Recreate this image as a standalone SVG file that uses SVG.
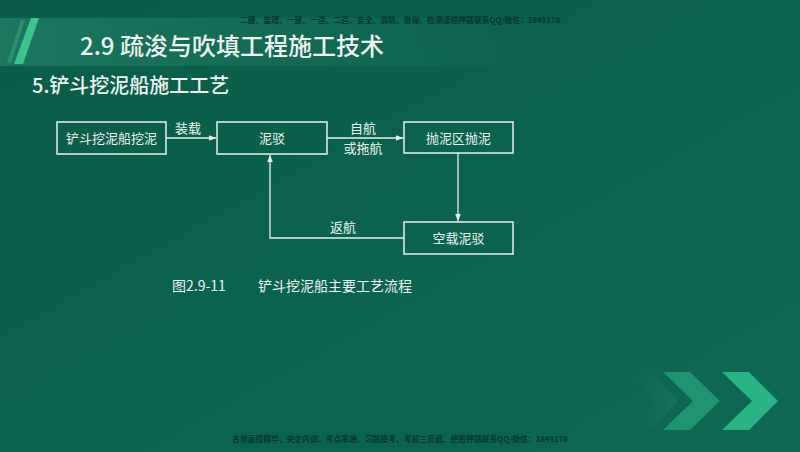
<svg xmlns="http://www.w3.org/2000/svg" width="800" height="452" viewBox="0 0 800 452">
<defs>
<linearGradient id="bg" x1="0" y1="0" x2="1" y2="1">
<stop offset="0" stop-color="#0a5c48"/>
<stop offset="0.5" stop-color="#0b624e"/>
<stop offset="1" stop-color="#0f6854"/>
</linearGradient>
<linearGradient id="band" x1="0" y1="0" x2="1" y2="0">
<stop offset="0" stop-color="#1f7a62" stop-opacity="0.9"/>
<stop offset="0.6" stop-color="#1a7560" stop-opacity="0.4"/>
<stop offset="1" stop-color="#1a7560" stop-opacity="0"/>
</linearGradient>
<linearGradient id="chev1" x1="0" y1="0" x2="1" y2="0">
<stop offset="0" stop-color="#0e6652" stop-opacity="0"/>
<stop offset="1" stop-color="#1a7a60"/>
</linearGradient>
<marker id="ah" viewBox="0 0 10 10" refX="10" refY="5" markerWidth="7" markerHeight="7" markerUnits="userSpaceOnUse" orient="auto">
<path d="M0,1 L10,5 L0,9 Z" fill="#e8f0ec"/>
</marker>
<style>
.box{fill:none;stroke:#e8f0ec;stroke-width:1.5}
.t{font-family:"Noto Sans CJK SC","Noto Sans",sans-serif;fill:#eef4f1}
.bt{font-size:13px;text-anchor:middle}
.lbl{font-size:13px;text-anchor:middle}
.ln{fill:none;stroke:#e8f0ec;stroke-width:1.3}
.wm{font-family:"Noto Sans CJK SC",sans-serif;font-size:7.8px;font-weight:bold;fill:#08382b;text-anchor:middle}
</style>
</defs>
<rect width="800" height="452" fill="url(#bg)"/>
<rect x="0" y="18" width="560" height="48" fill="url(#band)"/>
<polygon points="21,20 25,20 11,63 7,63" fill="#2fa57a" opacity="0.6"/>
<polygon points="31,18 39,18 23,64 14,64" fill="#3dc48c"/>
<polygon points="627,372 650,372 678,401 650,430 627,430 655,401" fill="url(#chev1)" opacity="0.7"/>
<polygon points="663,372 690,372 720,401 690,430 663,430 693,401" fill="#1f9470"/>
<polygon points="722,372 749,372 778,401 749,430 722,430 752,401" fill="#27b383"/>
<text class="wm" x="400" y="23">二建、监理、一建、一造、二造、安全、消防、咨询、检测课程押题联系QQ/微信：3849178</text>
<text class="wm" x="400" y="442">名师面授精华、央企内训、考点串讲、习题模考、考前三页纸、绝密押题联系QQ/微信：3849178</text>
<text class="t" x="80" y="55" font-size="24" font-weight="500">2.9 疏浚与吹填工程施工技术</text>
<text class="t" x="32" y="93" font-size="20" font-weight="500">5.铲斗挖泥船施工工艺</text>
<g id="n1"><rect class="box" x="57" y="122" width="109" height="32"/><text class="t bt" x="111.5" y="143">铲斗挖泥船挖泥</text></g>
<g id="n2"><rect class="box" x="217" y="122" width="110" height="32"/><text class="t bt" x="272" y="143">泥驳</text></g>
<g id="n3"><rect class="box" x="404" y="122" width="109" height="31"/><text class="t bt" x="458.5" y="143">抛泥区抛泥</text></g>
<g id="n4"><rect class="box" x="404" y="222" width="109" height="32"/><text class="t bt" x="458.5" y="243">空载泥驳</text></g>
<g id="edges">
<line class="ln" x1="166" y1="138" x2="216" y2="138" marker-end="url(#ah)"/>
<line class="ln" x1="327" y1="138" x2="403" y2="138" marker-end="url(#ah)"/>
<line class="ln" x1="458" y1="153" x2="458" y2="221" marker-end="url(#ah)"/>
<polyline class="ln" points="404,238 270,238 270,155" marker-end="url(#ah)"/>
<text class="t lbl" x="188" y="133">装载</text>
<text class="t lbl" x="363" y="133">自航</text>
<text class="t lbl" x="363" y="153">或拖航</text>
<text class="t lbl" x="343" y="232">返航</text>
</g>
<text class="t" x="172" y="291" font-size="14">图2.9-11</text>
<text class="t" x="258" y="291" font-size="14">铲斗挖泥船主要工艺流程</text>
</svg>
